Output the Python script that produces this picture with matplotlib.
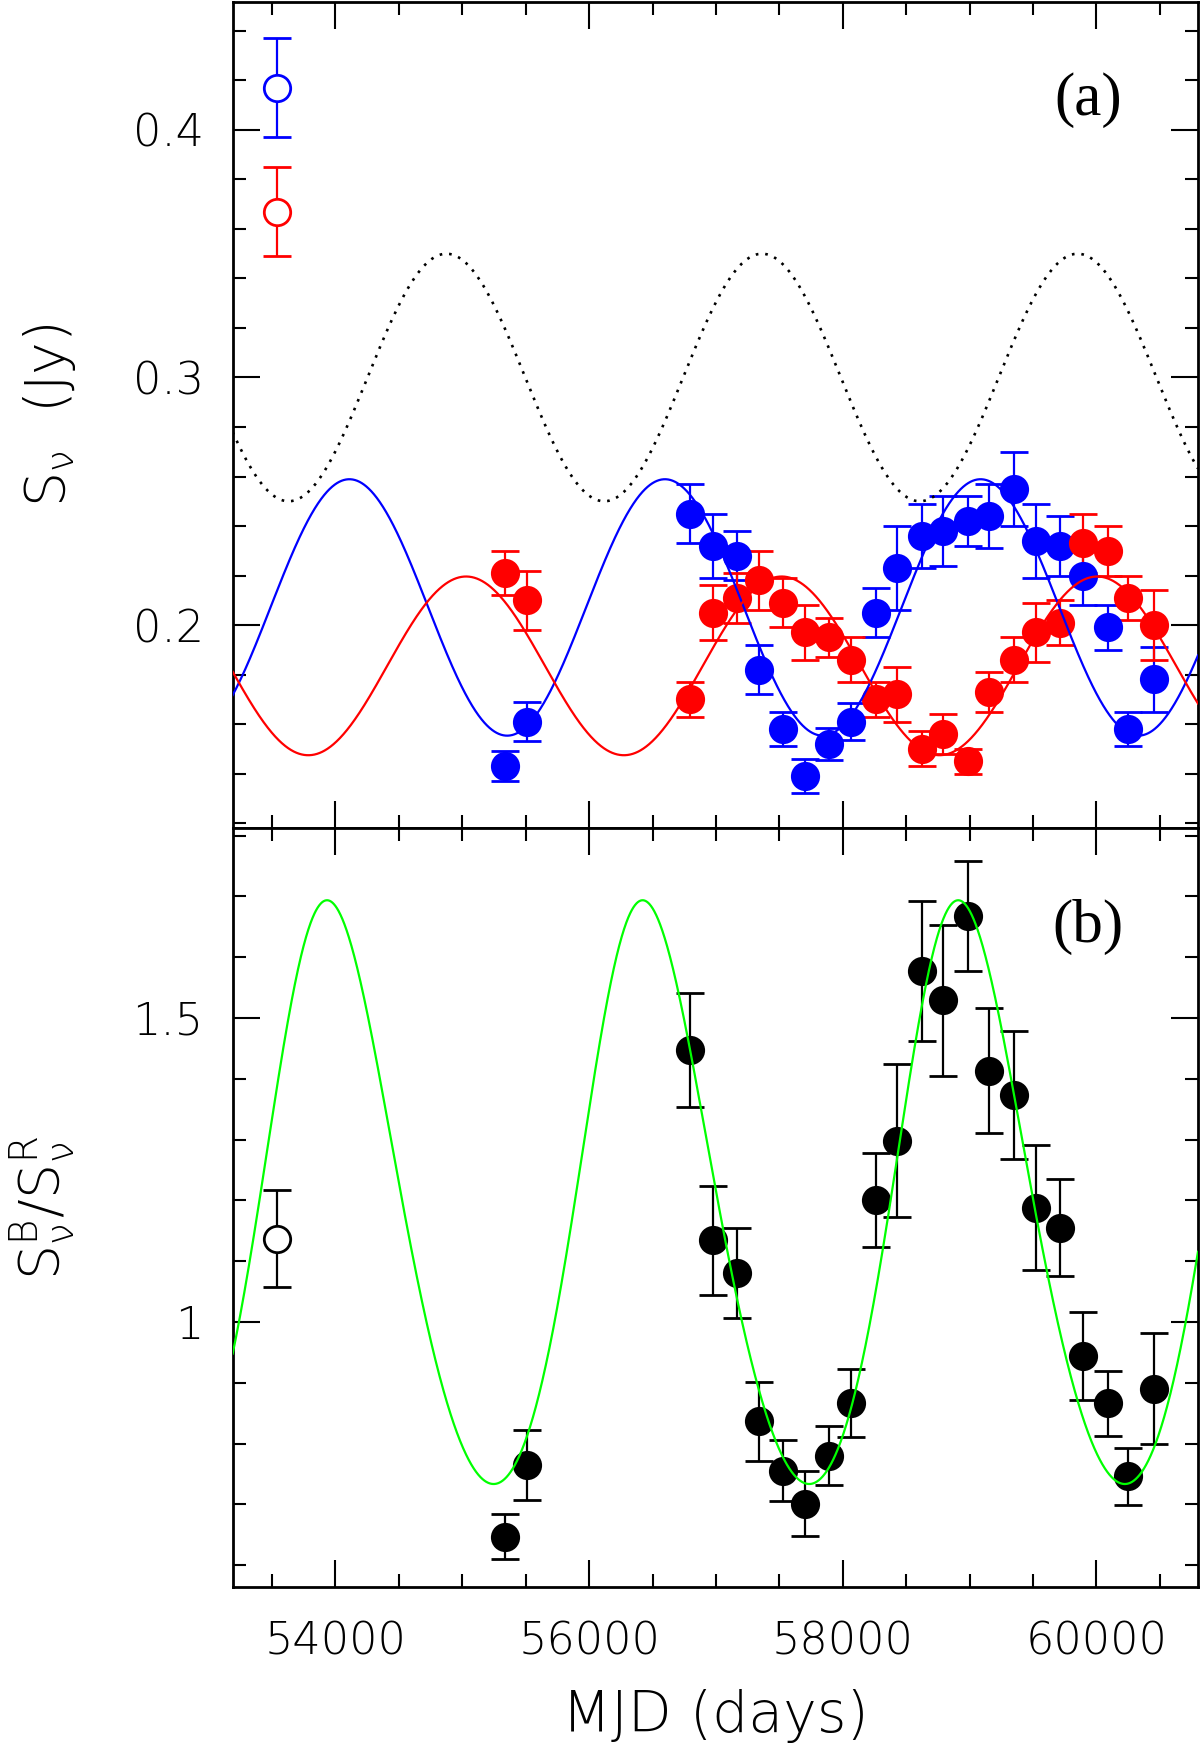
import matplotlib
matplotlib.use("Agg")
import matplotlib.pyplot as plt
from matplotlib.ticker import MultipleLocator, FormatStrFormatter, FuncFormatter
import numpy as np

plt.rcParams['font.family'] = ['DejaVu Sans']
plt.rcParams['font.weight'] = 'light'
plt.rcParams['axes.labelweight'] = 'light'
plt.rcParams['mathtext.fontset'] = 'custom'
plt.rcParams['mathtext.rm'] = 'DejaVu Sans:light'
plt.rcParams['mathtext.it'] = 'DejaVu Sans:light'
plt.rcParams['mathtext.sf'] = 'DejaVu Sans:light'
plt.rcParams['mathtext.default'] = 'regular'

# epochs (MJD) of the blue / red measurements
mjd = [55335, 55513, 56796, 56975, 57164, 57340, 57532, 57703, 57892, 58063, 58260, 58426,
       58623, 58789, 58991, 59156, 59353, 59522, 59716, 59890, 60087, 60252, 60453]

blue_flux = [0.143, 0.161, 0.245, 0.232, 0.228, 0.182, 0.158, 0.139, 0.152, 0.161, 0.205, 0.223,
             0.236, 0.238, 0.242, 0.244, 0.255, 0.234, 0.232, 0.220, 0.199, 0.158, 0.178]
blue_err = [0.006, 0.008, 0.012, 0.013, 0.010, 0.010, 0.007, 0.007, 0.0065, 0.0074, 0.010, 0.017,
            0.013, 0.014, 0.010, 0.013, 0.015, 0.015, 0.012, 0.012, 0.009, 0.007, 0.013]

red_flux = [0.221, 0.210, 0.170, 0.205, 0.211, 0.218, 0.209, 0.197, 0.195, 0.186, 0.170, 0.172,
            0.150, 0.156, 0.145, 0.173, 0.186, 0.197, 0.201, 0.233, 0.230, 0.211, 0.200]
red_err = [0.009, 0.012, 0.007, 0.011, 0.010, 0.012, 0.010, 0.011, 0.008, 0.009, 0.007, 0.011,
           0.007, 0.008, 0.005, 0.008, 0.009, 0.012, 0.009, 0.012, 0.010, 0.009, 0.014]

ratio = [0.647, 0.765, 1.447, 1.134, 1.080, 0.837, 0.755, 0.701, 0.780, 0.867, 1.201, 1.298,
         1.577, 1.529, 1.668, 1.413, 1.373, 1.188, 1.155, 0.944, 0.866, 0.746, 0.890]
ratio_err = [0.037, 0.058, 0.094, 0.089, 0.074, 0.065, 0.050, 0.053, 0.049, 0.056, 0.077, 0.126,
             0.115, 0.124, 0.090, 0.103, 0.105, 0.103, 0.080, 0.072, 0.053, 0.047, 0.091]

# early epoch (open symbols)
old_mjd = [53536]
old_blue, old_blue_err = [0.417], [0.020]
old_red, old_red_err = [0.367], [0.018]
old_ratio, old_ratio_err = [1.137], [0.080]

# sinusoidal models: mean, amplitude, MJD of maximum
period = 2488
blue_model = (0.2071, 0.0518, 54110)
red_model = (0.1835, 0.0361, 55030)
dotted_model = (0.300, 0.050, 54875)

xlim = (53190, 60800)


def sine(t, pars):
    mean, amp, tmax = pars
    return mean + amp * np.cos(2 * np.pi * (t - tmax) / period)


t = np.linspace(xlim[0], xlim[1], 3000)

fig = plt.figure(figsize=(12, 17.51), dpi=100)
ax1 = fig.add_axes([0.1939, 0.52713, 0.8044, 0.47173])
ax2 = fig.add_axes([0.1939, 0.09366, 0.8044, 0.43347])

eb = dict(fmt='o', ms=19, capsize=10, elinewidth=1.6, capthick=1.6, mew=2)

# panel (a)
ax1.errorbar(mjd, blue_flux, yerr=blue_err, color='blue', **eb)
ax1.errorbar(mjd, red_flux, yerr=red_err, color='red', **eb)
ax1.errorbar(old_mjd, old_blue, yerr=old_blue_err, color='blue', mfc='white', **eb)
ax1.errorbar(old_mjd, old_red, yerr=old_red_err, color='red', mfc='white', **eb)
ax1.plot(t, sine(t, blue_model), color='blue', lw=1.6, zorder=3)
ax1.plot(t, sine(t, red_model), color='red', lw=1.6, zorder=3)
ax1.plot(t, sine(t, dotted_model), color='black', lw=1.9, ls=(0, (1, 2.6)), zorder=3)
ax1.set_xlim(*xlim)
ax1.set_ylim(0.118, 0.4517)
ax1.yaxis.set_major_locator(MultipleLocator(0.1))
ax1.yaxis.set_minor_locator(MultipleLocator(0.02))
ax1.yaxis.set_major_formatter(FormatStrFormatter('%.1f'))
ax1.set_xticklabels([])
ax1.set_ylabel(r'$S_\nu\ $ (Jy)', fontsize=40)
ax1.yaxis.set_label_coords(-0.1893, 0.5)
ax1.yaxis.label.set_va('center')
ax1.text(0.886, 0.881, '(a)', transform=ax1.transAxes, ha='center', va='center',
         fontsize=44, family=['Liberation Serif', 'DejaVu Serif'], weight='normal')

# panel (b)
ax2.errorbar(mjd, ratio, yerr=ratio_err, color='black', **eb)
ax2.errorbar(old_mjd, old_ratio, yerr=old_ratio_err, color='black', mfc='white', **eb)
ax2.plot(t, sine(t, blue_model) / sine(t, red_model), color='lime', lw=1.6, zorder=3)
ax2.set_xlim(*xlim)
ax2.set_ylim(0.564, 1.8125)
ax2.yaxis.set_major_locator(MultipleLocator(0.5))
ax2.yaxis.set_minor_locator(MultipleLocator(0.1))
ax2.yaxis.set_major_formatter(FuncFormatter(lambda v, p: '%g' % v))
ax2.set_ylabel(r'$S_\nu^B/S_\nu^R$', fontsize=40)
ax2.yaxis.set_label_coords(-0.1976, 0.5)
ax2.yaxis.label.set_va('center')
ax2.set_xlabel('MJD (days)', fontsize=41)
ax2.xaxis.set_label_coords(0.5, -0.170)
ax2.xaxis.label.set_va('center')
ax2.text(0.886, 0.869, '(b)', transform=ax2.transAxes, ha='center', va='center',
         fontsize=44, family=['Liberation Serif', 'DejaVu Serif'], weight='normal')

for ax in (ax1, ax2):
    ax.xaxis.set_major_locator(MultipleLocator(2000))
    ax.xaxis.set_minor_locator(MultipleLocator(500))
    ax.tick_params(which='both', direction='in', top=True, right=True, width=1.5)
    ax.tick_params(which='major', length=19.5)
    ax.tick_params(which='minor', length=9.7)
    ax.tick_params(axis='y', which='major', labelsize=32, pad=21)
    ax.tick_params(axis='x', which='major', labelsize=32, pad=24)
    for s in ax.spines.values():
        s.set_linewidth(2)

fig.savefig('out.png', dpi=100)
